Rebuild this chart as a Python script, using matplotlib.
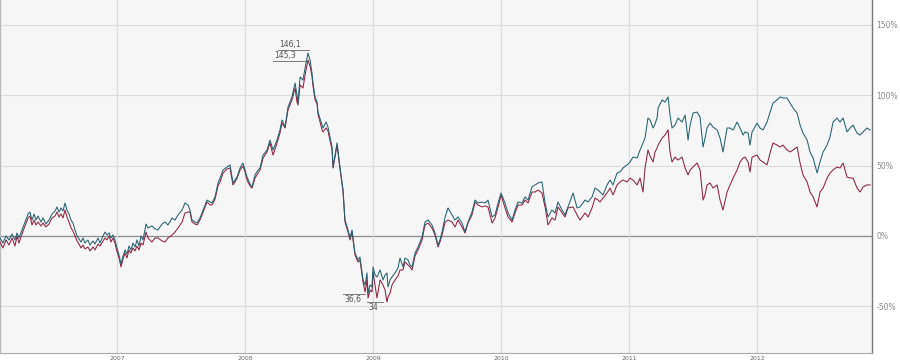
import matplotlib
matplotlib.use("Agg")
from matplotlib import pyplot as plt

# decimal years, values in % change
dates = [
    2006.086, 2006.109, 2006.133, 2006.156, 2006.180, 2006.203, 2006.219, 2006.234, 2006.258, 2006.281,
    2006.305, 2006.320, 2006.336, 2006.352, 2006.367, 2006.383, 2006.406, 2006.422, 2006.445, 2006.469,
    2006.492, 2006.516, 2006.531, 2006.547, 2006.563, 2006.578, 2006.594, 2006.609, 2006.625, 2006.641,
    2006.656, 2006.672, 2006.688, 2006.703, 2006.719, 2006.734, 2006.750, 2006.773, 2006.789, 2006.813,
    2006.828, 2006.852, 2006.867, 2006.891, 2006.906, 2006.922, 2006.938, 2006.953, 2006.969, 2006.984,
    2007.000, 2007.016, 2007.031, 2007.047, 2007.063, 2007.078, 2007.094, 2007.109, 2007.125, 2007.141,
    2007.156, 2007.172, 2007.188, 2007.203, 2007.227, 2007.242, 2007.273, 2007.297, 2007.320, 2007.352,
    2007.375, 2007.398, 2007.430, 2007.453, 2007.477, 2007.508, 2007.531, 2007.555, 2007.570, 2007.586,
    2007.609, 2007.625, 2007.648, 2007.664, 2007.688, 2007.703, 2007.727, 2007.742, 2007.766, 2007.789,
    2007.805, 2007.828, 2007.859, 2007.883, 2007.906, 2007.922, 2007.938, 2007.961, 2007.984, 2008.000,
    2008.016, 2008.039, 2008.055, 2008.078, 2008.102, 2008.117, 2008.141, 2008.172, 2008.195, 2008.219,
    2008.250, 2008.273, 2008.289, 2008.313, 2008.336, 2008.367, 2008.391, 2008.406, 2008.414, 2008.430,
    2008.453, 2008.469, 2008.492, 2008.508, 2008.523, 2008.531, 2008.547, 2008.563, 2008.570, 2008.602,
    2008.609, 2008.633, 2008.648, 2008.680, 2008.688, 2008.719, 2008.742, 2008.766, 2008.781, 2008.805,
    2008.820, 2008.836, 2008.859, 2008.883, 2008.898, 2008.922, 2008.938, 2008.953, 2008.961, 2008.977,
    2008.992, 2009.000, 2009.016, 2009.031, 2009.055, 2009.078, 2009.094, 2009.109, 2009.117, 2009.133,
    2009.148, 2009.172, 2009.195, 2009.211, 2009.234, 2009.250, 2009.273, 2009.289, 2009.305, 2009.328,
    2009.352, 2009.383, 2009.406, 2009.430, 2009.461, 2009.484, 2009.508, 2009.523, 2009.539, 2009.563,
    2009.586, 2009.617, 2009.641, 2009.664, 2009.695, 2009.719, 2009.742, 2009.773, 2009.797, 2009.820,
    2009.852, 2009.875, 2009.898, 2009.930, 2009.953, 2009.977, 2010.000, 2010.031, 2010.055, 2010.086,
    2010.109, 2010.133, 2010.164, 2010.188, 2010.211, 2010.242, 2010.266, 2010.289, 2010.320, 2010.344,
    2010.367, 2010.398, 2010.422, 2010.445, 2010.477, 2010.500, 2010.523, 2010.563, 2010.594, 2010.617,
    2010.656, 2010.680, 2010.711, 2010.734, 2010.758, 2010.773, 2010.797, 2010.828, 2010.852, 2010.875,
    2010.906, 2010.930, 2010.953, 2010.984, 2011.008, 2011.031, 2011.063, 2011.086, 2011.109, 2011.125,
    2011.148, 2011.164, 2011.188, 2011.203, 2011.219, 2011.227, 2011.258, 2011.281, 2011.305, 2011.320,
    2011.336, 2011.359, 2011.383, 2011.414, 2011.438, 2011.461, 2011.477, 2011.500, 2011.531, 2011.555,
    2011.578, 2011.594, 2011.609, 2011.633, 2011.656, 2011.688, 2011.711, 2011.734, 2011.766, 2011.789,
    2011.813, 2011.844, 2011.867, 2011.891, 2011.906, 2011.930, 2011.945, 2011.961, 2012.000, 2012.023,
    2012.047, 2012.078, 2012.102, 2012.125, 2012.156, 2012.180, 2012.203, 2012.234, 2012.258, 2012.281,
    2012.313, 2012.336, 2012.359, 2012.391, 2012.414, 2012.438, 2012.469, 2012.492, 2012.516, 2012.547,
    2012.570, 2012.594, 2012.625, 2012.648, 2012.672, 2012.703, 2012.727, 2012.750, 2012.781, 2012.805,
    2012.828, 2012.859, 2012.883,
]

teal = [
    -1.4, -5.0, 0.0, -2.8, 1.4, -2.8, 2.1, -1.4, 4.3, 9.9,
    15.6, 17.0, 11.3, 15.6, 11.3, 14.2, 9.9, 12.8, 8.5, 11.3,
    15.6, 17.7, 20.6, 17.0, 19.9, 17.7, 23.4, 18.4, 15.6, 11.3,
    9.2, 4.3, 0.0, -2.1, -4.3, -1.4, -5.0, -2.8, -6.4, -3.5,
    -5.7, -1.4, -5.0, 0.0, 2.8, 0.7, 2.1, -1.4, 0.7, -2.8,
    -8.5, -13.5, -19.9, -14.2, -9.9, -12.8, -7.1, -9.9, -5.0, -7.8,
    -2.8, -7.1, 0.0, -2.8, 8.5, 5.7, 7.1, 5.0, 4.3, 8.5,
    9.9, 7.8, 12.8, 11.3, 14.9, 18.4, 23.4, 22.0, 18.4, 11.3,
    9.9, 9.2, 12.8, 16.3, 22.0, 25.5, 24.1, 23.4, 27.7, 37.6,
    41.1, 46.8, 48.9, 50.4, 37.6, 39.7, 41.8, 48.2, 51.8, 46.8,
    41.8, 36.9, 34.8, 43.3, 46.8, 48.2, 57.4, 61.0, 68.1, 61.0,
    68.1, 75.2, 82.3, 77.3, 91.5, 98.6, 108.5, 100.0, 94.3, 112.8,
    110.6, 119.1, 129.8, 124.8, 115.6, 108.5, 98.6, 95.0, 87.9, 78.7,
    76.6, 80.8, 77.3, 63.1, 48.9, 66.0, 48.9, 32.6, 11.3, 4.3,
    -1.4, 4.3, -12.1, -17.0, -14.9, -31.2, -34.8, -26.2, -40.4, -34.8,
    -36.2, -22.0, -27.7, -29.1, -24.1, -31.2, -27.7, -26.2, -36.2, -31.2,
    -29.1, -26.2, -22.7, -15.6, -22.0, -15.6, -17.0, -20.6, -22.0, -12.1,
    -7.8, -0.7, 9.9, 11.3, 7.8, 2.1, -6.4, -2.8, 2.8, 13.5,
    19.9, 14.9, 11.3, 13.5, 9.2, 2.8, 9.9, 17.0, 25.5, 23.4,
    24.1, 23.4, 25.5, 13.5, 14.9, 23.4, 30.5, 23.4, 16.3, 11.3,
    18.4, 24.1, 23.4, 27.7, 25.5, 34.8, 36.2, 37.6, 38.3, 23.4,
    13.5, 18.4, 16.3, 24.1, 18.4, 14.9, 20.6, 30.5, 19.9, 20.6,
    25.5, 24.1, 27.7, 34.0, 32.6, 31.2, 29.1, 36.2, 39.7, 36.2,
    44.7, 45.4, 48.2, 50.4, 52.5, 56.0, 55.3, 61.0, 66.0, 69.5,
    83.7, 82.3, 76.6, 79.4, 83.7, 90.8, 96.5, 95.0, 98.6, 85.8,
    76.6, 78.7, 83.7, 80.8, 85.8, 68.1, 78.7, 87.2, 87.9, 84.4,
    63.1, 69.5, 76.6, 80.1, 77.3, 75.2, 69.5, 59.6, 76.6, 76.6,
    75.2, 80.8, 76.6, 71.6, 73.8, 73.0, 64.5, 73.8, 80.1, 76.6,
    75.2, 80.8, 87.9, 94.3, 96.5, 98.6, 97.9, 97.9, 94.3, 90.8,
    87.2, 78.7, 73.0, 68.1, 59.6, 55.3, 44.7, 52.5, 59.6, 64.5,
    70.2, 80.8, 83.7, 80.8, 83.7, 73.8, 76.6, 78.7, 73.0, 71.6,
    73.8, 76.6, 75.2,
]

red = [
    -4.3, -8.5, -2.8, -6.4, -1.4, -7.1, 0.0, -5.0, 1.4, 7.1,
    12.8, 14.2, 7.8, 11.3, 7.8, 9.9, 7.1, 9.2, 6.4, 8.5,
    12.8, 14.2, 17.0, 13.5, 15.6, 12.8, 18.4, 13.5, 9.9, 5.7,
    3.5, 0.0, -3.5, -5.7, -8.5, -6.4, -9.2, -7.8, -10.6, -7.8,
    -9.9, -5.7, -7.1, -3.5, -1.4, -2.8, 0.0, -4.3, -1.4, -5.0,
    -11.3, -15.6, -22.0, -16.3, -12.1, -15.6, -9.9, -12.1, -8.5, -10.6,
    -7.1, -9.9, -5.0, -6.4, 2.8, -1.4, -4.3, -1.4, -1.4, -3.5,
    -4.3, -1.4, 0.7, 2.8, 5.7, 9.9, 16.3, 17.0, 17.0, 9.9,
    8.5, 7.8, 11.3, 14.9, 20.6, 24.1, 22.0, 22.0, 26.2, 35.5,
    38.3, 44.7, 47.5, 48.2, 36.2, 38.3, 41.1, 46.8, 49.6, 45.4,
    39.7, 35.5, 34.0, 41.1, 44.7, 46.8, 55.3, 59.6, 66.0, 57.4,
    66.0, 73.0, 80.1, 76.6, 89.4, 96.5, 105.0, 95.0, 92.9, 107.1,
    105.0, 114.2, 124.8, 120.6, 113.5, 106.4, 96.5, 93.6, 86.5, 75.2,
    73.8, 76.6, 74.5, 61.0, 48.2, 64.5, 47.5, 31.2, 9.9, 2.8,
    -2.8, 2.8, -13.5, -18.4, -17.0, -32.6, -39.7, -31.2, -44.0, -38.3,
    -39.7, -25.5, -34.8, -44.0, -31.2, -34.8, -38.3, -46.8, -43.3, -40.4,
    -34.8, -31.2, -28.4, -24.1, -24.1, -18.4, -20.6, -22.0, -24.1, -14.2,
    -9.9, -2.8, 7.8, 9.2, 5.7, 0.7, -7.8, -4.3, 0.7, 9.9,
    11.3, 9.9, 6.4, 11.3, 6.4, 2.1, 9.2, 14.9, 24.1, 22.0,
    20.6, 21.3, 20.6, 9.2, 12.8, 20.6, 29.1, 19.9, 13.5, 9.9,
    16.3, 22.0, 22.0, 25.5, 23.4, 31.2, 31.2, 32.6, 30.5, 20.6,
    7.8, 12.8, 11.3, 20.6, 16.3, 13.5, 19.9, 20.6, 14.9, 11.3,
    16.3, 13.5, 19.9, 26.9, 25.5, 24.1, 26.9, 30.5, 34.0, 29.1,
    36.2, 38.3, 39.7, 38.3, 41.1, 39.7, 36.2, 41.1, 31.2, 48.2,
    61.0, 56.7, 52.5, 59.6, 62.4, 64.5, 69.5, 71.6, 75.2, 59.6,
    52.5, 56.0, 53.9, 56.0, 48.2, 43.3, 46.8, 48.9, 51.8, 46.8,
    25.5, 29.1, 36.2, 37.6, 34.0, 36.2, 25.5, 18.4, 31.2, 36.2,
    41.1, 46.8, 52.5, 55.3, 56.0, 52.5, 45.4, 56.0, 57.4, 53.9,
    52.5, 50.4, 58.9, 66.0, 64.5, 63.1, 64.5, 61.0, 59.6, 61.0,
    63.1, 51.8, 43.3, 38.3, 31.2, 27.7, 20.6, 31.2, 34.0, 41.1,
    44.7, 46.8, 48.9, 48.2, 51.8, 41.8, 41.1, 41.1, 34.0, 31.2,
    34.8, 36.2, 36.2,
]

years = [2007, 2008, 2009, 2010, 2011, 2012]
year_labels = ['2007', '2008', '2009', '2010', '2011', '2012']
pct_ticks = [-50, 0, 50, 100, 150]
pct_labels = ['-50%', '0%', '50%', '100%', '150%']

# min/max markers: (label, line start, line end, level)
peak_marks = [('146,1', 2008.258, 2008.500, 131.9), ('145,3', 2008.219, 2008.469, 124.1)]
low_marks = [('36,6', 2008.766, 2008.938, -41.1), ('34', 2008.953, 2009.078, -46.8)]


def make_chart():
    fig = plt.figure(figsize=(9, 3.64), dpi=100, facecolor='white')
    ax = fig.add_axes([0, 11 / 364, 872 / 900, 353 / 364])
    ax.set_facecolor('#f6f6f6')
    ax.set_xlim(2006.086, 2012.898)
    ax.set_ylim(-83.0, 167.4)

    for y in [-50, 50, 100, 150]:
        ax.axhline(y, color='#dcdcdc', lw=0.8, zorder=1)
    ax.axhline(0, color='#8c8c8c', lw=0.9, zorder=1)
    for x in years:
        ax.axvline(x, color='#dcdcdc', lw=0.8, zorder=1)

    ax.plot(dates, red, color='#8e2240', lw=0.75, zorder=3)
    ax.plot(dates, teal, color='#24606e', lw=0.75, zorder=4)

    for label, x0, x1, level in peak_marks:
        ax.plot([x0, x1], [level, level], color='#7a7a7a', lw=0.7, zorder=5)
        ax.text(x0 + 0.008, level + 0.8, label, fontsize=5.5, color='#555555',
                ha='left', va='bottom', zorder=5)
    for label, x0, x1, level in low_marks:
        ax.plot([x0, x1], [level, level], color='#7a7a7a', lw=0.7, zorder=5)
        ax.text(x0 + 0.008, level - 0.8, label, fontsize=5.5, color='#555555',
                ha='left', va='top', zorder=5)

    ax.set_xticks(years)
    ax.set_xticklabels(year_labels, fontsize=4.5, color='#666666',
                       family=['Liberation Sans Narrow', 'DejaVu Sans'])
    ax.yaxis.tick_right()
    ax.set_yticks(pct_ticks)
    ax.set_yticklabels(pct_labels, fontsize=5.5, color='#888888')
    ax.tick_params(axis='both', length=0)
    ax.tick_params(axis='x', pad=2)
    ax.tick_params(axis='y', pad=3)

    ax.spines['top'].set_visible(False)
    ax.spines['right'].set_color('#777777')
    ax.spines['right'].set_linewidth(1.0)
    ax.spines['left'].set_color('#bbbbbb')
    ax.spines['left'].set_linewidth(1.0)
    ax.spines['bottom'].set_color('#aaaaaa')
    ax.spines['bottom'].set_linestyle((0, (1, 1)))
    ax.spines['bottom'].set_linewidth(0.8)

    fig.savefig('out.png', dpi=100, facecolor='white')


if __name__ == '__main__':
    make_chart()
